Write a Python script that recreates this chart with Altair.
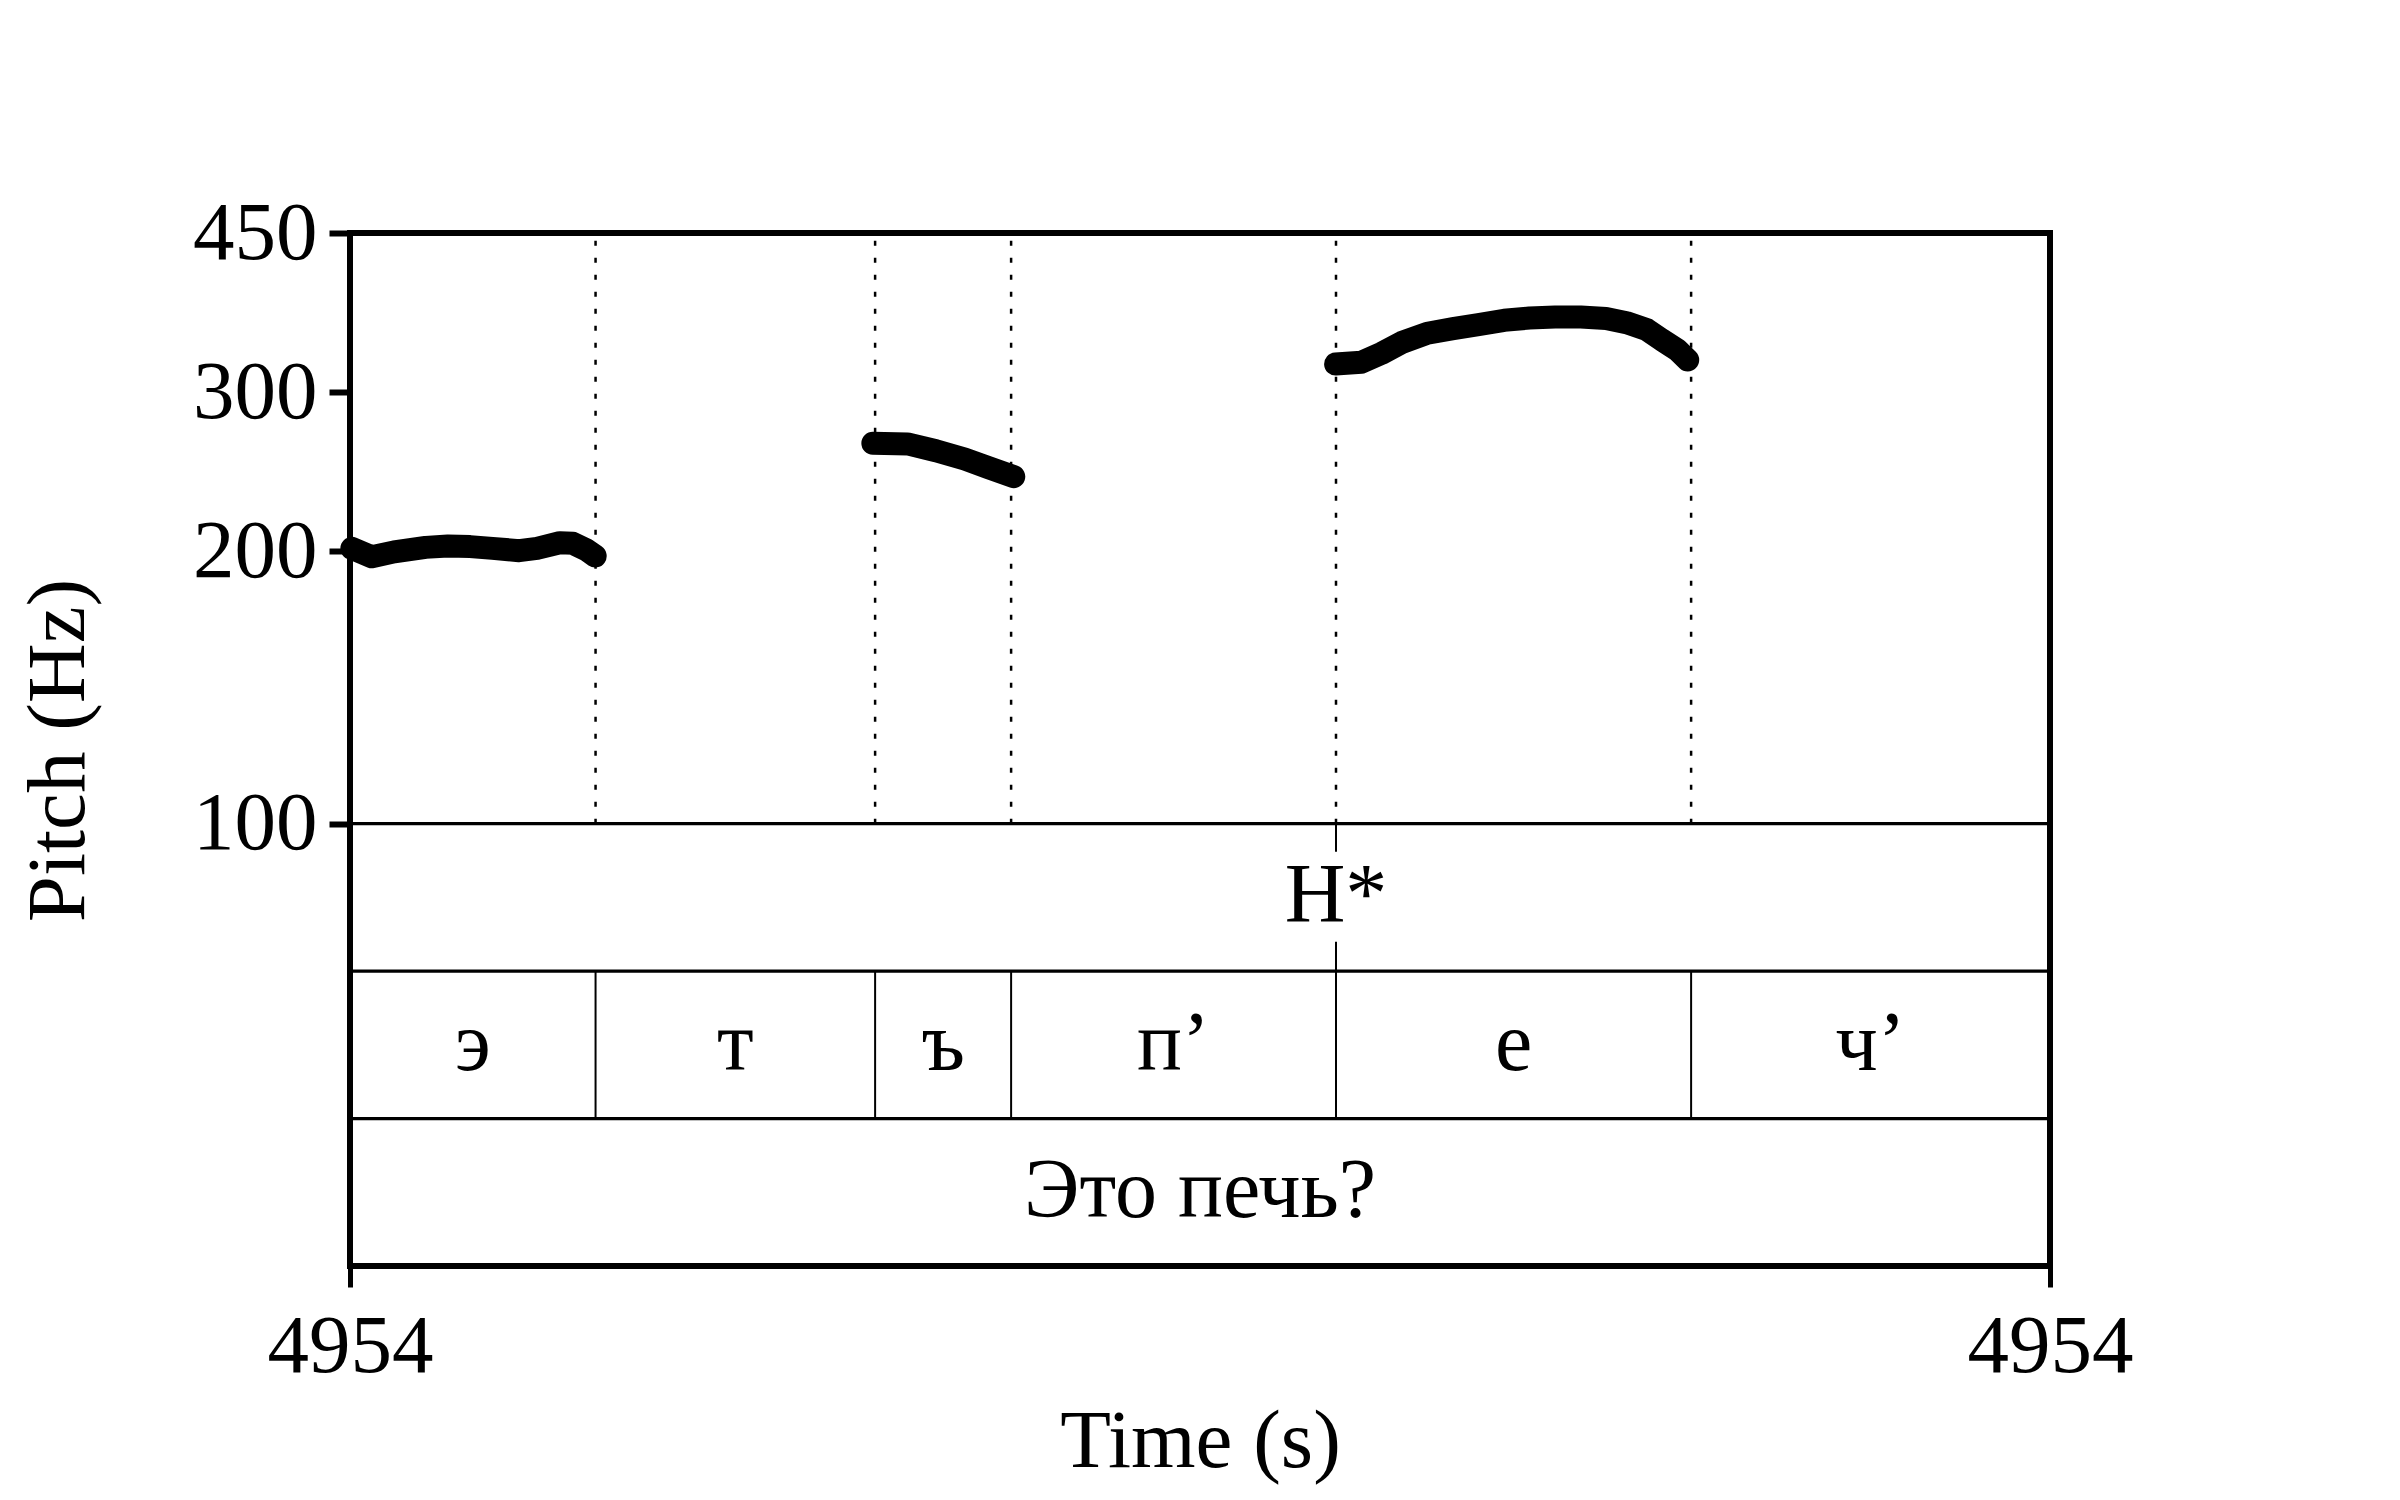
import altair as alt
import pandas as pd

FONT = "Liberation Serif"

# ---- data ----
T0, T1 = 4954.02, 4954.47
boundaries = [4954.085, 4954.159, 4954.195, 4954.281, 4954.375]
phones = ["э", "т", "ъ", "п’", "е", "ч’"]
tone_time = 4954.281
tone_label = "H*"
word = "Это печь?"

seg1_t = [4954.0205, 4954.0258, 4954.0317, 4954.0400, 4954.0459, 4954.0518, 4954.0577,
          4954.0648, 4954.0695, 4954.0755, 4954.0790, 4954.0826, 4954.0849]
seg1_f = [201.6, 197.3, 199.8, 202.1, 202.8, 202.5, 201.6, 200.4, 201.6, 204.5, 204.2, 200.8, 197.7]

seg2_t = [4954.1584, 4954.1676, 4954.1751, 4954.1827, 4954.1888, 4954.1957]
seg2_f = [263.4, 263.0, 258.5, 253.1, 247.8, 242.0]

seg3_t = [4954.2809, 4954.2877, 4954.2931, 4954.2985, 4954.3052, 4954.3120, 4954.3187,
          4954.3255, 4954.3322, 4954.3390, 4954.3458, 4954.3525, 4954.3579, 4954.3633,
          4954.3673, 4954.3714, 4954.3741]
seg3_f = [322.3, 323.8, 331.3, 340.6, 348.6, 352.7, 356.3, 360.3, 362.4, 363.3, 363.3,
          362.0, 358.1, 351.8, 342.7, 334.1, 325.7]

y_ticks = [100, 200, 300, 450]
tier_lines = [1, 2, 3]          # tier index boundaries (0 = bottom of word tier)
tone_line_parts = [(3.0, 2.81), (2.2, 2.0)]

# ---- tables ----
pitch = pd.DataFrame(
    [{"t": t, "f": f, "seg": 1} for t, f in zip(seg1_t, seg1_f)]
    + [{"t": t, "f": f, "seg": 2} for t, f in zip(seg2_t, seg2_f)]
    + [{"t": t, "f": f, "seg": 3} for t, f in zip(seg3_t, seg3_f)]
)
bnd = pd.DataFrame({"t": boundaries, "lo": 100, "hi": 450, "tlo": 1, "thi": 2})
edges = [T0] + boundaries + [T1]
phone_df = pd.DataFrame({"t": [(edges[i] + edges[i + 1]) / 2 for i in range(len(phones))],
                         "label": phones, "ty": 1.5})
tone_df = pd.DataFrame({"t": [tone_time], "label": [tone_label], "ty": [2.5]})
tone_line_df = pd.DataFrame({"t": [tone_time] * len(tone_line_parts),
                             "a": [p[0] for p in tone_line_parts],
                             "b": [p[1] for p in tone_line_parts]})
word_df = pd.DataFrame({"t": [(T0 + T1) / 2], "label": [word], "ty": [0.5]})
hline_df = pd.DataFrame({"ty": tier_lines, "t0": T0, "t1": T1})

W, H = 1700, 1033
PITCH_H = 590.7

xscale = alt.Scale(domain=[T0, T1], nice=False, zero=False)
xaxis = alt.Axis(values=[T0, T1], format="d", title="Time (s)", grid=False, domain=False,
                 tickSize=21, tickWidth=5, tickColor="black", labelFontSize=83,
                 labelFont=FONT, labelColor="black", labelPadding=18, labelFlush=False,
                 labelOverlap=False, titleFont=FONT, titleFontSize=83,
                 titleFontWeight="normal", titleColor="black", titleY=200,
                 titleBaseline="alphabetic")

def X(field="t"):
    return alt.X(f"{field}:Q", scale=xscale, axis=xaxis)

pscale = alt.Scale(type="log", domain=[100, 450], range=[PITCH_H, 0], nice=False, clamp=True)
tscale = alt.Scale(domain=[0, 3], range=[H, PITCH_H], nice=False, zero=False)

yaxis = alt.Axis(values=y_ticks, format="d", title="Pitch (Hz)", grid=False, domain=False,
                 tickSize=21, tickWidth=6, tickColor="black", labelFontSize=83,
                 labelFont=FONT, labelColor="black", labelPadding=12, labelOverlap=False,
                 labelFlush=False, labelBound=False,
                 titleFont=FONT, titleFontSize=83, titleFontWeight="normal",
                 titleColor="black", titleAngle=270, titleX=-267, titleY=517,
                 titleAlign="center", titleBaseline="alphabetic")

dashed = alt.Chart(bnd).mark_rule(color="black", strokeWidth=2.5, strokeDash=[5, 12]).encode(
    x=X(), y=alt.Y("lo:Q", scale=pscale, axis=None), y2="hi:Q")

line = alt.Chart(pitch).mark_line(color="black", strokeWidth=23, strokeCap="round",
                                  strokeJoin="round").encode(
    x=X(), y=alt.Y("f:Q", scale=pscale, axis=yaxis), detail="seg:N")

hlines = alt.Chart(hline_df).mark_rule(color="black", strokeWidth=3.3).encode(
    x=X("t0"), x2="t1:Q", y=alt.Y("ty:Q", scale=tscale, axis=None))

phone_lines = alt.Chart(bnd).mark_rule(color="black", strokeWidth=2).encode(
    x=X(), y=alt.Y("tlo:Q", scale=tscale, axis=None), y2="thi:Q")

tone_lines = alt.Chart(tone_line_df).mark_rule(color="black", strokeWidth=2).encode(
    x=X(), y=alt.Y("a:Q", scale=tscale, axis=None), y2="b:Q")

def text_layer(df):
    return alt.Chart(df).mark_text(font=FONT, fontSize=84, color="black",
                                   baseline="middle", align="center").encode(
        x=X(), y=alt.Y("ty:Q", scale=tscale, axis=None), text="label:N")

chart = alt.layer(
    dashed, line, hlines, phone_lines, tone_lines,
    text_layer(tone_df), text_layer(phone_df), text_layer(word_df)
).resolve_scale(y="independent").properties(
    width=W, height=H,
    autosize=alt.AutoSizeParams(type="none"),
    padding={"left": 350, "top": 233, "right": 350, "bottom": 234},
    background="white",
).configure_view(stroke="black", strokeWidth=6)

chart.save("out.html", embed_options={"renderer": "svg", "actions": False})
